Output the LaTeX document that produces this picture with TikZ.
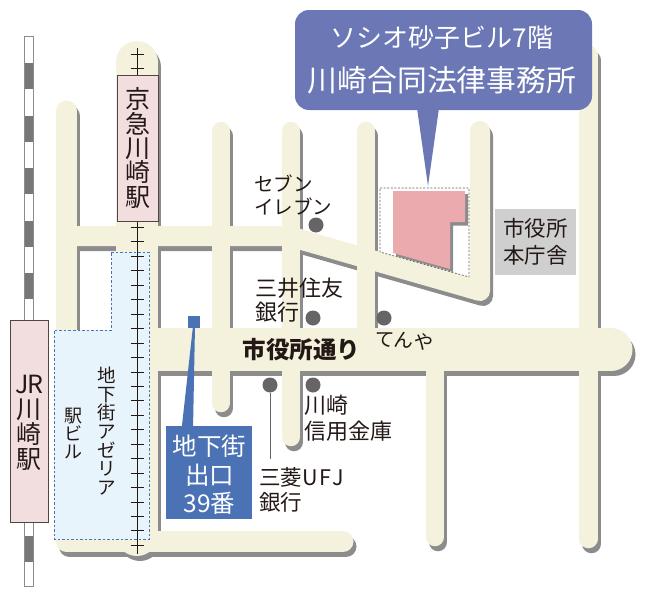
\documentclass[tikz,border=0pt]{standalone}
\usepackage{fontspec}
\setmainfont{Noto Sans CJK JP}
\usetikzlibrary{calc}
\definecolor{road}{HTML}{F4F2DC}
\definecolor{rshadow}{HTML}{8C8C8C}
\definecolor{ink}{HTML}{231815}
\definecolor{bubble}{HTML}{6B78B5}
\definecolor{exitblue}{HTML}{4B72B5}
\definecolor{stationpink}{HTML}{F3DEDF}
\definecolor{bldg}{HTML}{EBABAE}
\definecolor{under}{HTML}{E8F4FC}
\definecolor{dotgray}{HTML}{666466}
\definecolor{railgray}{HTML}{777777}
\newcommand{\fs}[2]{\fontsize{#1}{#2}\selectfont}
\tikzset{
  thin road/.style={line width=18.5pt},
  wide road/.style={line width=21pt},
  main road/.style={line width=43pt},
  lbl/.style={inner sep=0pt,text=ink,align=left,anchor=west},
  stack/.style={inner sep=0pt,text=ink,align=center},
  landmark/.style={circle,fill=dotgray,inner sep=0pt,minimum size=15pt},
  station/.style={draw=ink!80,line width=0.8pt,fill=stationpink,inner sep=0pt,align=center,text=ink},
}
\newcommand{\roads}{%
  \draw[wide road,line cap=round,line join=round] (66.5,111)--(66.5,541.5)--(343,541.5);
  \draw[wide road,line width=42pt,line cap=round] (137,62)--(137,535);
  \draw[thin road,line cap=round] (221,131)--(221,403);
  \draw[thin road,line cap=round] (291,131)--(291,437);
  \draw[thin road,line cap=round] (366,131)--(366,340);
  \draw[thin road,line cap=round] (435,345)--(435,537);
  \draw[thin road,line cap=round] (588.5,55)--(588.5,539);
  \draw[thin road,line width=20pt,line cap=round,line join=round] (480,131)--(480,291)--(302,240)--(291,236)--(66.5,236);
  \draw[main road,line cap=round] (611,349.5)--(150,349.5);
}
\begin{document}
\begin{tikzpicture}[x=1pt,y=-1pt]
\useasboundingbox (0,0) rectangle (648,605);
% JR rail
\fill[white] (24.5,36) rectangle (33.5,586);
\foreach \i in {0,...,9}{\fill[railgray] (24.5,63+52.5*\i) rectangle (33.5,89+52.5*\i);}
\draw[rshadow,line width=1pt] (24.5,36) rectangle (33.5,586);
% roads
\begin{scope}[shift={(3,5)},rshadow]\roads\end{scope}
\begin{scope}[road]\roads\end{scope}
% underground mall
\draw[fill=under,draw=exitblue,line width=0.9pt,dash pattern=on 2.5pt off 2pt]
  (111,252)--(149,252)--(149,539)--(54,539)--(54,330)--(111,330)--cycle;
% Keikyu rail
\draw[ink,line width=0.9pt] (137,48)--(137,554);
\foreach \i in {0,...,34}{\draw[ink,line width=0.8pt] (130.5,54+14.45*\i)--(144,54+14.45*\i);}
% building
\draw[ink!70,line width=0.7pt,dash pattern=on 2pt off 1.6pt] (380,188)--(469,188)--(469,277)--(380,252)--cycle;
\fill[rshadow] (396,194)--(468,194)--(468,225.5)--(453,225.5)--(453,272)--(396,256)--cycle;
\fill[bldg] (393,191)--(465,191)--(465,222)--(450,222)--(450,269)--(393,253)--cycle;
% bubble
\fill[bubble] (417,108)--(439,108)--(428,186)--cycle;
\node[fill=bubble,rounded corners=14pt,minimum width=297pt,minimum height=100pt,inner sep=0pt] (bubblebox) at (443.5,60) {};
\node[inner sep=0pt,text=white,font=\fs{26}{26}] (tline1) at (442,38) {ソシオ砂子ビル7階};
\node[inner sep=0pt,text=white,font=\fs{29.8}{30}] (tline2) at (442,80) {川崎合同法律事務所};
% stations
\node[station,minimum width=41pt,minimum height=146pt,font=\fs{25}{24.3}] (keikyu) at (137.5,148) {京\\急\\川\\崎\\駅};
\node[station,minimum width=38.5pt,minimum height=202pt] (jr) at (29.3,421) {};
\node[stack,font=\fs{25}{25}] (jrlabel) at (29.3,422.5) {J\kern-1pt R\\川\\崎\\駅};
% city hall
\node[fill=black!19,minimum width=81pt,minimum height=66pt,inner sep=0pt,align=center,text=ink,font=\fs{21.5}{26.5}] (cityhall) at (535.5,242) {市役所\\本庁舎};
% dots
\node[landmark] (d1) at (316,225) {};
\node[landmark] (d2) at (313,318) {};
\node[landmark] (d3) at (384,318) {};
\node[landmark] (d4) at (270,385) {};
\node[landmark] (d5) at (313,385) {};
\coordinate (d4end) at (270,459);
\draw[dotgray,line width=0.9pt] (d4)--(d4end);
% labels
\node[lbl,font=\fs{19.5}{23.5}] (l1) at (254,195) {セブン\\イレブン};
\node[lbl,font=\fs{22}{24.5}] (l2) at (255,300) {三井住友\\銀行};
\node[inner sep=0pt,text=ink,rotate=-5,font=\fs{19.5}{20}] (l3) at (404,340.5) {てんや};
\node[inner sep=0pt,text=ink,font=\fs{23.5}{24}\bfseries] (l4) at (301.5,350) {市役所通り};
\node[lbl,font=\fs{22}{26}] (l5) at (304,418) {川崎\\信用金庫};
\node[lbl,font=\fs{21.5}{24.5}] (l6) at (259,490) {三菱U\kern1.5pt F\kern1.5pt J\\銀行};
% exit
\node[fill=exitblue,minimum width=12pt,minimum height=12pt,inner sep=0pt] (sq) at (194,322) {};
\fill[exitblue] (193,326)--(195,326)--(193,430)--(181.5,430)--cycle;
\node[fill=exitblue,minimum width=86pt,minimum height=93pt,inner sep=0pt] (exitbox) at (209,472.5) {};
\node[inner sep=0pt,align=center,text=white,font=\fs{24.5}{28.5}] (exitlabel) at (209.5,475) {地下街\\出口\\39番};
% vertical labels
\node[stack,font=\fs{18.5}{18.6}] (az) at (106.5,431) {地\\下\\街\\ア\\ゼ\\リ\\ア};
\node[stack,font=\fs{18}{18}] (eb) at (73,433.5) {駅\\ビ\\ル};
\end{tikzpicture}
\end{document}
